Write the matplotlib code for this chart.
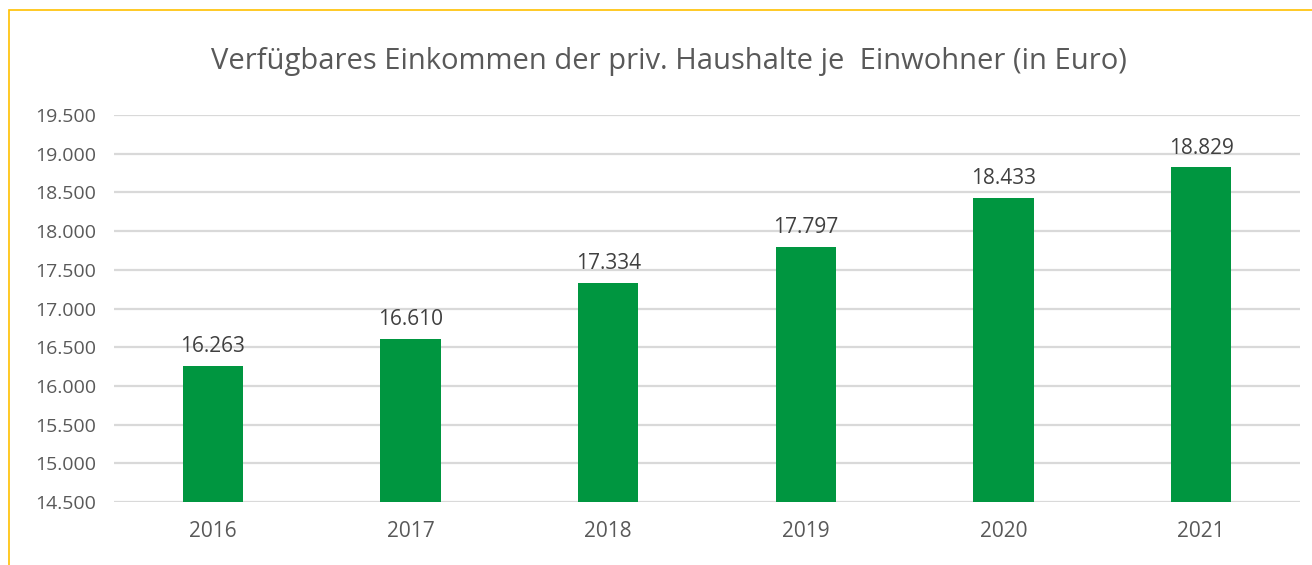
import matplotlib
matplotlib.use("Agg")
import matplotlib.pyplot as plt
from matplotlib.patches import Rectangle
from matplotlib import font_manager

years = ["2016", "2017", "2018", "2019", "2020", "2021"]
values = [16263, 16610, 17334, 17797, 18433, 18829]
yticks = [14500, 15000, 15500, 16000, 16500, 17000, 17500, 18000, 18500, 19000, 19500]
title = "Verfügbares Einkommen der priv. Haushalte je  Einwohner (in Euro)"

avail = {f.name for f in font_manager.fontManager.ttflist}
fam = [f for f in ["Liberation Sans Narrow", "Open Sans", "DejaVu Sans"] if f in avail]
plt.rcParams['font.family'] = fam

def fmt(v):
    return f"{v:,}".replace(",", ".")

W, H = 1312, 565
fig = plt.figure(figsize=(W/100, H/100), dpi=100)
ax = fig.add_axes([114/W, 1 - 502/H, (1300-114)/W, (502-115)/H])

x = list(range(len(years)))
ax.bar(x, values, width=0.305, color="#009640", zorder=3)
ax.set_xlim(-0.5, len(years) - 0.5)
ax.set_ylim(14500, 19500)
ax.set_yticks(yticks)
ax.set_yticklabels([fmt(t) for t in yticks])
ax.set_xticks(x)
ax.set_xticklabels(years)
ax.tick_params(axis='both', length=0, colors="#595959")
ax.tick_params(axis='y', pad=13, labelsize=14)
ax.tick_params(axis='x', pad=14, labelsize=15)
ax.grid(axis='y', color="#d9d9d9", linewidth=1.6, zorder=0)
for s in ax.spines.values():
    s.set_visible(False)
ax.set_axisbelow(True)

for xi, v in zip(x, values):
    ax.annotate(fmt(v), (xi, v), xytext=(0, 6), textcoords="offset points",
                ha="center", va="bottom", fontsize=15, color="#404040")

fig.text(0.5 * (213 + 1125) / W, 1 - 62/H, title, ha="center", va="center",
         fontsize=21, color="#595959")

fig.patches.append(Rectangle((9/W, -0.1), 1.2, 1 - 10/H + 0.1, transform=fig.transFigure,
                             fill=False, edgecolor="#FFC000", linewidth=1.2))

fig.savefig("out.png", dpi=100, facecolor="white")
